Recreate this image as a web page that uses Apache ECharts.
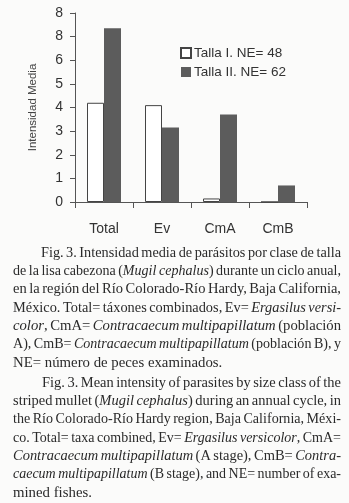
<!DOCTYPE html>
<html><head><meta charset="utf-8">
<script src="https://cdn.jsdelivr.net/npm/echarts@6/dist/echarts.min.js"></script>
<style>html,body{margin:0;padding:0;background:#fbfbfa;}#c{width:349px;height:503px;}</style>
</head><body><div id="c"></div>
<script>
var categories = ['Total', 'Ev', 'CmA', 'CmB'];
var tallaI = [4.2, 4.1, 0.15, 0];
var tallaII = [7.35, 3.15, 3.7, 0.7];
var yTickLabels = ['0', '1', '2', '3', '4', '5', '6', '8', '8'];
var seriesNames = ['Talla I. NE= 48', 'Talla II. NE= 62'];
var yAxisName = 'Intensidad Media';
var captionES = [
  'Fig. 3. Intensidad media de parásitos por clase de talla',
  'de la lisa cabezona (*Mugil cephalus*) durante un ciclo anual,',
  'en la región del Río Colorado-Río Hardy, Baja California,',
  'México. Total= táxones combinados, Ev= *Ergasilus versi-*',
  '*color*, CmA= *Contracaecum multipapillatum* (población',
  'A), CmB= *Contracaecum multipapillatum* (población B), y',
  'NE= número de peces examinados.'
];
var captionEN = [
  'Fig. 3. Mean intensity of parasites by size class of the',
  'striped mullet (*Mugil cephalus*) during an annual cycle, in',
  'the Río Colorado-Río Hardy region, Baja California, Méxi-',
  'co. Total= taxa combined, Ev= *Ergasilus versicolor*, CmA=',
  '*Contracaecum multipapillatum* (A stage), CmB= *Contra-*',
  '*caecum multipapillatum* (B stage), and NE= number of exa-',
  'mined fishes.'
];

var FONT_FAMILY = '"Liberation Serif", "DejaVu Serif", serif';
var FS = 14.8;
var ctx = document.createElement('canvas').getContext('2d');
function fontStr(it){ return (it ? 'italic ' : '') + FS + 'px ' + FONT_FAMILY; }
function measure(t, it){ ctx.font = fontStr(it); return ctx.measureText(t).width; }

function paragraphGraphics(lines, top, left, right, indent, lh){
  var out = [];
  var italic = false;
  lines.forEach(function(line, li){
    var rawWords = line.split(' ');
    var words = rawWords.map(function(w){
      var pieces = []; var cur = '';
      for (var i = 0; i < w.length; i++){
        if (w[i] === '*'){ if (cur) pieces.push({t: cur, it: italic}); cur = ''; italic = !italic; }
        else cur += w[i];
      }
      if (cur) pieces.push({t: cur, it: italic});
      var wd = 0; pieces.forEach(function(p){ p.w = measure(p.t, p.it); wd += p.w; });
      return {pieces: pieces, w: wd};
    });
    var x0 = left + (li === 0 ? indent : 0);
    var total = words.reduce(function(s, w){ return s + w.w; }, 0);
    var last = li === lines.length - 1;
    var gap = (!last && words.length > 1) ? (right - x0 - total) / (words.length - 1) : measure(' ', false);
    var sx = 1;
    if (gap < 2.5) { gap = 2.5; sx = (right - x0 - gap * (words.length - 1)) / total; }
    var x = x0, y = top + li * lh;
    words.forEach(function(w){
      var px = x;
      w.pieces.forEach(function(p){
        out.push({type: 'text', x: px, y: y, scaleX: sx, silent: true,
          style: {text: p.t, font: fontStr(p.it), fill: '#2a2a2a', align: 'left', verticalAlign: 'middle'}});
        px += p.w * sx;
      });
      x += w.w * sx + gap;
    });
  });
  return out;
}

var graphics = [].concat(
  paragraphGraphics(captionES, 253, 13, 341, 28, 18.3),
  paragraphGraphics(captionEN, 383, 13, 341, 29, 18.3)
);

var chart = echarts.init(document.getElementById('c'), null, {renderer: 'canvas'});
chart.setOption({
  backgroundColor: '#fbfbfa',
  animation: false,
  grid: {left: 75, right: 42, top: 13, bottom: 301},
  legend: {
    orient: 'vertical', left: 175, top: 41, itemWidth: 10, itemHeight: 10, itemGap: 5,
    icon: 'rect',
    textStyle: {fontFamily: 'Liberation Sans, Arial, sans-serif', fontSize: 13.5, color: '#333', padding: [0, 0, 0, -2]},
    data: seriesNames
  },
  xAxis: {
    type: 'category', data: categories,
    axisLine: {lineStyle: {color: '#555', width: 1}},
    axisTick: {show: true, alignWithLabel: false, length: 6, lineStyle: {color: '#555'}},
    axisLabel: {fontFamily: 'Liberation Sans, Arial, sans-serif', fontSize: 14, color: '#333', margin: 20}
  },
  yAxis: {
    type: 'value', min: 0, max: 8, interval: 1,
    name: yAxisName, nameLocation: 'middle', nameGap: 36,
    nameTextStyle: {fontFamily: 'Liberation Sans, Arial, sans-serif', fontSize: 11.5, color: '#444'},
    axisLine: {show: true, lineStyle: {color: '#555', width: 1}},
    axisTick: {show: true, length: 5, lineStyle: {color: '#555'}},
    splitLine: {show: false},
    axisLabel: {fontFamily: 'Liberation Sans, Arial, sans-serif', fontSize: 14, color: '#333', margin: 12,
      formatter: function(v){ return yTickLabels[Math.round(v)]; }}
  },
  series: [
    {name: seriesNames[0], type: 'bar', data: tallaI, barWidth: 17, barGap: '0%',
     itemStyle: {color: '#ffffff', borderColor: '#444', borderWidth: 1}},
    {name: seriesNames[1], type: 'bar', data: tallaII, barWidth: 17,
     itemStyle: {color: '#5c5c5c', borderColor: '#4a4a4a', borderWidth: 0}}
  ],
  graphic: graphics
});
</script></body></html>
